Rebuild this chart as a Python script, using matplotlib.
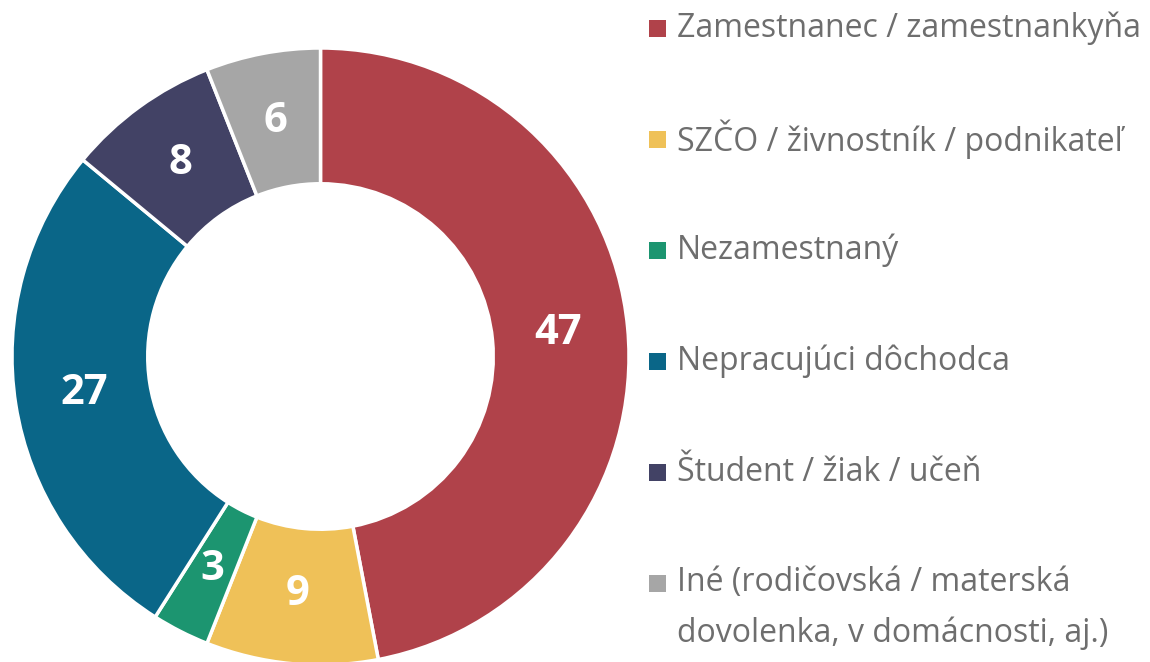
import matplotlib.pyplot as plt
from matplotlib.patches import Rectangle

categories = ['Zamestnanec / zamestnankyňa',
              'SZČO / živnostník / podnikateľ',
              'Nezamestnaný',
              'Nepracujúci dôchodca',
              'Študent / žiak / učeň',
              'Iné (rodičovská / materská\ndovolenka, v domácnosti, aj.)']
values = [47, 9, 3, 27, 8, 6]
colors = ['#B0424A', '#EFC158', '#1C9570', '#0A6688', '#424265', '#A6A6A6']

W, H = 1150, 662
fig = plt.figure(figsize=(W / 100, H / 100), dpi=100)
ax = fig.add_axes([0, 0, 1, 1])

#---Donut
R = 308.5
wedges, texts = ax.pie(values, colors=colors, startangle=90, counterclock=False,
                       center=(320.5, H - 356.5), radius=R,
                       labels=[str(v) for v in values], labeldistance=0.775,
                       wedgeprops=dict(width=R * 0.44, edgecolor='white', linewidth=2.5),
                       frame=True)
for t in texts:
    t.set_color('white')
    t.set_fontsize(30)
    t.set_fontweight('bold')
    t.set_family('Open Sans')
    t.set_ha('center')
    t.set_va('center')
ax.set_xlim(0, W)
ax.set_ylim(0, H)
ax.set_aspect('equal')
ax.axis('off')

#---Legend (manual)
row = 111
for i, (lab, c) in enumerate(zip(categories, colors)):
    yc = H - (28.5 + i * row)
    ax.add_patch(Rectangle((649, yc - 8.5), 17, 17, facecolor=c, edgecolor='none'))
    multi = '\n' in lab
    ax.text(677, yc + (18 if multi else 0), lab, fontsize=23, family='Open Sans',
            color='#6E6E6E', va='top' if multi else 'center', linespacing=1.72)

fig.savefig('out.png', dpi=100)
